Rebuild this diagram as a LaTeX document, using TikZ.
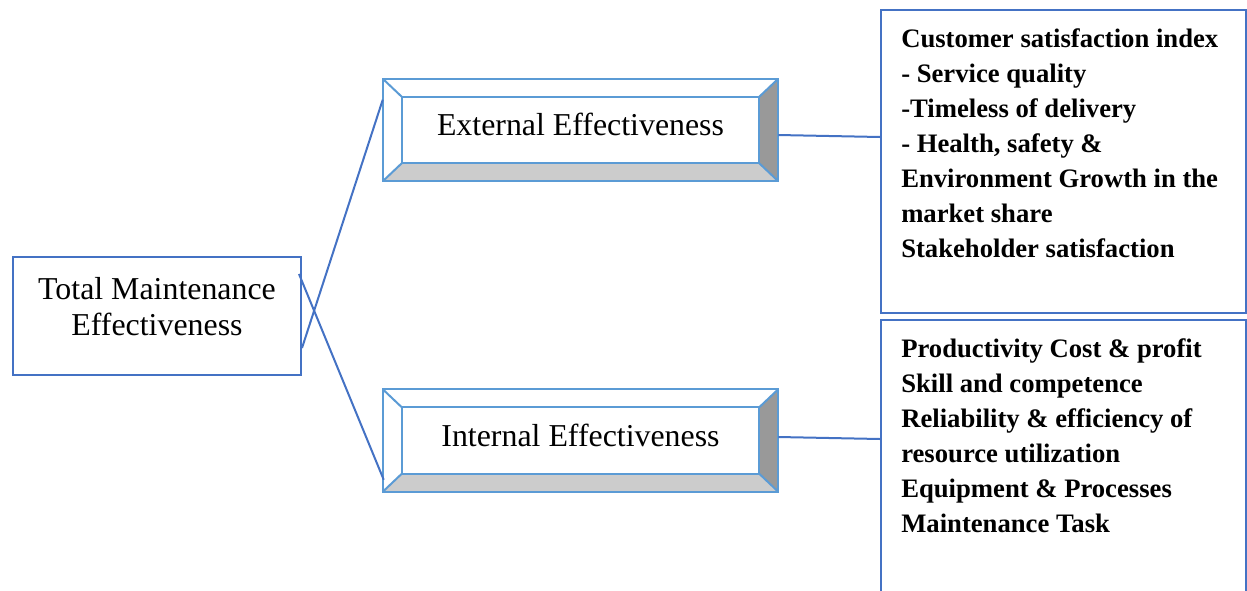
\documentclass[tikz,border=0pt]{standalone}
\usepackage{fontspec}
\setmainfont{Liberation Serif}
\usetikzlibrary{positioning}
\usetikzlibrary{calc}
\definecolor{boxblue}{HTML}{4472C4}
\definecolor{bevelblue}{HTML}{5B9BD5}
\definecolor{bevellight}{HTML}{CCCCCC}
\definecolor{beveldark}{HTML}{999999}

\tikzset{
  mainbox/.style={draw=boxblue, line width=1.5pt, minimum width=216pt, minimum height=88.5pt, inner sep=0pt},
  bevelbox/.style={minimum width=296.25pt, minimum height=76.5pt, inner sep=0pt},
  listbox/.style={draw=boxblue, line width=1.5pt, minimum width=273.75pt, inner sep=0pt},
  bigtext/.style={font=\fontsize{23.9}{27}\selectfont, align=center, inner sep=0pt},
  listtext/.style={font=\fontsize{20}{26.25}\selectfont\bfseries, align=left, inner sep=0pt, anchor=north west},
  link/.style={draw=boxblue, line width=1.5pt},
}

\begin{document}
\begin{tikzpicture}[x=0.75pt, y=-0.75pt]
    \useasboundingbox (0,0) rectangle (1247,590);

    % Define boxes
    \node[mainbox] (tme) at (157,316) {};
    \node[bigtext] (tme-label) at (157,307) {Total Maintenance\\Effectiveness};

    \node[listbox, minimum height=227.25pt] (cs) at (1063.5,161.5) {};
    \node[listbox, minimum height=217.5pt] (prod) at (1063.5,465) {};

    % Bevelled boxes
    \foreach \nm/\yc/\txt in {ext/130/External Effectiveness, int/440.5/Internal Effectiveness}{
        \node[bevelbox] (\nm) at (580.5,\yc) {};
        \fill[bevellight] (\nm.south west) -- (\nm.south east) -- ($(\nm.south east)+(-19,-18)$) -- ($(\nm.south west)+(19,-18)$) -- cycle;
        \fill[beveldark] (\nm.north east) -- (\nm.south east) -- ($(\nm.south east)+(-19,-18)$) -- ($(\nm.north east)+(-19,18)$) -- cycle;
        \draw[bevelblue, line width=1.5pt] (\nm.north west) rectangle (\nm.south east);
        \draw[bevelblue, line width=1.5pt] ($(\nm.north west)+(19,18)$) rectangle ($(\nm.south east)+(-19,-18)$);
        \draw[bevelblue, line width=1.5pt] (\nm.north west) -- ($(\nm.north west)+(19,18)$);
        \draw[bevelblue, line width=1.5pt] (\nm.north east) -- ($(\nm.north east)+(-19,18)$);
        \draw[bevelblue, line width=1.5pt] (\nm.south west) -- ($(\nm.south west)+(19,-18)$);
        \draw[bevelblue, line width=1.5pt] (\nm.south east) -- ($(\nm.south east)+(-19,-18)$);
        \node[bigtext] (\nm-label) at ($(\nm.center)+(0,-5.5)$) {\txt};
    }

    % Draw connectors
    \draw[link] ($(tme.south east)+(0,-28)$) -- ($(ext.north west)+(0,21)$);
    \draw[link] ($(tme.north east)+(-3,18)$) -- ($(int.south west)+(1,-12)$);
    \draw[link] ($(ext.east)+(0,5)$) -- ($(cs.north west)+(0,128)$);
    \draw[link] ($(int.east)+(0,-3.5)$) -- ($(prod.north west)+(0,120)$);

    % Indicator lists
    \node[listtext] (cs-list) at ($(cs.north west)+(21,19.5)$) {Customer satisfaction index\\- Service quality\\-Timeless of delivery\\- Health, safety \&\\Environment Growth in the\\market share\\Stakeholder satisfaction};
    \node[listtext] (prod-list) at ($(prod.north west)+(21,19.5)$) {Productivity Cost \& profit\\Skill and competence\\Reliability \& efficiency of\\resource utilization\\Equipment \& Processes\\Maintenance Task};
\end{tikzpicture}
\end{document}
